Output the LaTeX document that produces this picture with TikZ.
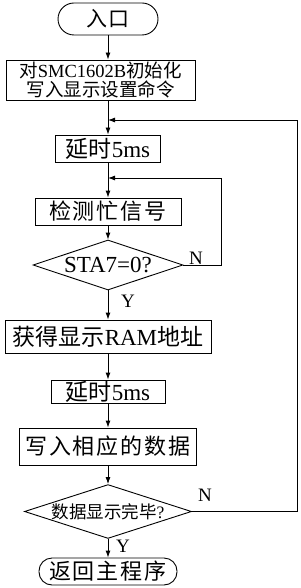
\documentclass[tikz,border=0pt]{standalone}
\usepackage{fontspec}
\setmainfont{Liberation Serif}
\newfontfamily\cjk{Noto Sans CJK SC}
\newfontfamily\cjkw[LetterSpace=9]{Noto Sans CJK SC}
\newcommand{\zh}[1]{{\cjk #1}}
\newcommand{\zhw}[1]{{\cjkw #1}}
\usetikzlibrary{arrows.meta, shapes.geometric}

\begin{document}
\begin{tikzpicture}[x=1pt, y=-1pt,
  box/.style={draw, line width=0.9pt, inner sep=0pt, align=center},
  term/.style={box, rounded corners=13pt},
  cond/.style={draw, line width=0.9pt, diamond, aspect=3, inner sep=0pt},
  arr/.style={-{Latex[length=7pt, width=5pt]}, line width=0.9pt},
  lab/.style={font=\fontsize{19}{20}\selectfont}
]
\useasboundingbox (0,0) rectangle (300,588);
\node[term, rounded corners=16pt, minimum width=100pt, minimum height=32pt, font=\fontsize{21}{22}\selectfont] (start) at (108,19) {\zhw{入口}};
\node[box, minimum width=189pt, minimum height=40pt, font=\fontsize{18.5}{19.5}\selectfont] (init) at (100.5,80) {\zh{对}SMC1602B\zh{初始化}\\\zh{写入显示设置命令}};
\node[box, minimum width=105pt, minimum height=27pt, font=\fontsize{23}{24}\selectfont] (delay1) at (108,148.5) {\zh{延时}5ms};
\node[box, minimum width=146pt, minimum height=27pt, font=\fontsize{22}{24}\selectfont] (check) at (108,211.5) {\zhw{检测忙信号}};
\node[cond, minimum width=150pt, minimum height=50pt, font=\fontsize{23}{24}\selectfont] (busy) at (108,265) {STA7=0?};
\node[box, minimum width=206pt, minimum height=33pt, font=\fontsize{23}{24}\selectfont] (ram) at (108,336.5) {\zh{获得显示}RAM\zh{地址}};
\node[box, minimum width=114pt, minimum height=23pt, font=\fontsize{23}{24}\selectfont] (delay2) at (108,391.5) {\zh{延时}5ms};
\node[box, minimum width=177pt, minimum height=37pt, font=\fontsize{22}{24}\selectfont] (write) at (108,446.5) {\zhw{写入相应的数据}};
\node[cond, minimum width=167pt, minimum height=47pt, font=\fontsize{17.5}{18}\selectfont] (done) at (108,511.5) {\zh{数据显示完毕}?};
\node[term, minimum width=138pt, minimum height=27pt, font=\fontsize{22}{24}\selectfont] (back) at (108,571.5) {\zhw{返回主程序}};
\coordinate (loopin) at (221,178);
\coordinate (loopout) at (297,120);
\draw[arr] (start) -- (init.north -| start);
\draw[arr] (init.south -| delay1) -- (delay1);
\draw[arr] (delay1) -- (check);
\draw[arr] (check) -- (busy);
\draw[arr] (busy) -- (ram);
\draw[arr] (ram) -- (delay2);
\draw[arr] (delay2) -- (write);
\draw[arr] (write) -- (done);
\draw[arr] (done) -- (back);
\draw[arr] (busy.east) -| (loopin) -- (loopin -| check);
\draw[arr] (done.east) -| (loopout) -- (loopout -| delay1);
\node[lab] (n1) at (196,258) {N};
\node[lab] (y1) at (128,301) {Y};
\node[lab] (n2) at (205,495) {N};
\node[lab] (y2) at (123,546) {Y};
\end{tikzpicture}
\end{document}
